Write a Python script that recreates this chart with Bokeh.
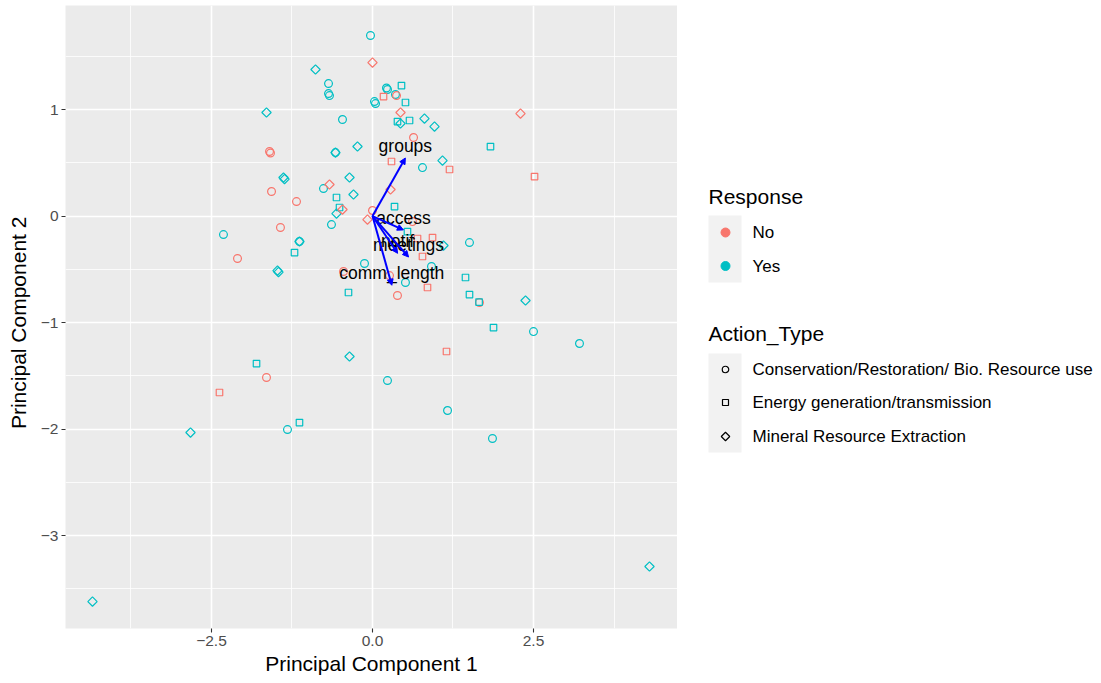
import math

from bokeh.plotting import figure
from bokeh.layouts import row
from bokeh.models import (ColumnDataSource, Range1d, FixedTicker,
                          CustomJSTickFormatter, Arrow, NormalHead)
from bokeh.core.properties import value
from bokeh.embed import file_html
from bokeh.resources import INLINE

RED = "#F8766D"
CYAN = "#00BFC4"
FONT = "Liberation Sans"

# PCA scores by Response (Yes / No) and Action_Type
yes_cons_pc1 = [-0.031, -0.683, -0.683, -0.668, 0.217, 0.233, 0.031, 0.047, -0.466, 0.776,
                -0.761, -0.637, -2.314, -1.134, -0.124, 0.916, 1.506, 0.512, 2.500, 3.214,
                0.233, 1.165, 1.863, -1.320, 0.357, -0.575]
yes_cons_pc2 = [1.695, 1.244, 1.150, 1.131, 1.202, 1.188, 1.075, 1.056, 0.906, 0.455,
                0.258, -0.080, -0.174, -0.239, -0.446, -0.474, -0.249, -0.624, -1.085, -1.197,
                -1.545, -1.826, -2.089, -2.005, 1.141, 0.596]

no_cons_pc1 = [0.637, -1.599, -1.584, -1.568, -1.180, 0.000, -1.429, -2.096, 0.621, -0.450,
               0.264, 0.388, 1.661, -1.646, 0.373]
no_cons_pc2 = [0.737, 0.606, 0.592, 0.230, 0.136, 0.052, -0.108, -0.399, -0.052, -0.521,
               -0.559, -0.746, -0.812, -1.516, 1.131]

yes_energy_pc1 = [0.450, 0.512, 0.388, 0.575, 1.832, -0.559, -0.512, 0.342, 0.543, 1.444,
                  1.506, -0.373, -1.211, 1.879, -1.801, -1.134, 1.655]
yes_energy_pc2 = [1.225, 1.066, 0.887, 0.897, 0.652, 0.174, 0.080, 0.089, -0.146, -0.577,
                  -0.737, -0.718, -0.343, -1.047, -1.385, -1.939, -0.808]

no_energy_pc1 = [0.171, 0.295, 1.196, 2.516, 0.699, 0.932, 0.776, 0.854, 1.149, -2.376]
no_energy_pc2 = [1.122, 0.512, 0.437, 0.371, -0.211, -0.202, -0.380, -0.671, -1.272, -1.657]

yes_mineral_pc1 = [-0.885, -1.646, 0.807, 0.963, 0.435, -0.233, -0.575, 1.087, -1.382, -1.366,
                   -0.357, -0.295, -0.559, 1.102, -1.475, -1.460, 2.376, -0.357, -2.826, -4.348,
                   4.301, -1.134]
yes_mineral_pc2 = [1.376, 0.972, 0.915, 0.840, 0.869, 0.653, 0.596, 0.521, 0.362, 0.347,
                   0.362, 0.202, 0.023, -0.277, -0.512, -0.526, -0.793, -1.319, -2.033, -3.620,
                   -3.291, -0.239]

no_mineral_pc1 = [0.000, 0.435, 2.298, -0.668, 0.280, -0.466, -0.078]
no_mineral_pc2 = [1.441, 0.972, 0.962, 0.296, 0.249, 0.061, -0.033]

# Variable loadings (arrows)
var_names = ["groups", "access", "notif", "meetings", "comm_length"]
load_pc1 = [0.51, 0.48, 0.39, 0.56, 0.30]
load_pc2 = [0.545, -0.13, -0.35, -0.385, -0.65]

x_ticks = [-2.5, 0.0, 2.5]
y_ticks = [-3, -2, -1, 0, 1]

p = figure(width=677, height=683, output_backend="svg", toolbar_location=None,
           x_range=Range1d(-4.767, 4.736), y_range=Range1d(-3.873, 1.977),
           min_border_left=65, min_border_right=0, min_border_top=5, min_border_bottom=55)
p.background_fill_color = "#EBEBEB"
p.border_fill_color = "white"
p.outline_line_color = None

# axes and grid
p.xaxis.ticker = FixedTicker(ticks=x_ticks, minor_ticks=[-3.75, -1.25, 1.25, 3.75])
p.yaxis.ticker = FixedTicker(ticks=y_ticks, minor_ticks=[-3.5, -2.5, -1.5, -0.5, 0.5, 1.5])
p.xaxis.formatter = CustomJSTickFormatter(
    code="return (tick < 0 ? '\u2212' : '') + Math.abs(tick).toFixed(1);")
p.yaxis.formatter = CustomJSTickFormatter(
    code="return (tick < 0 ? '\u2212' : '') + Math.abs(tick).toFixed(0);")
for ax in (p.xaxis[0], p.yaxis[0]):
    ax.axis_line_color = None
    ax.major_tick_line_color = "#333333"
    ax.major_tick_line_width = 1.1
    ax.major_tick_out = 4
    ax.major_tick_in = 0
    ax.minor_tick_line_color = None
    ax.major_label_text_font = FONT
    ax.major_label_text_font_size = "15.5px"
    ax.major_label_text_color = "#4D4D4D"
    ax.axis_label_text_font = FONT
    ax.axis_label_text_font_size = "21px"
    ax.axis_label_text_font_style = "normal"
    ax.axis_label_text_color = "black"
p.xaxis.axis_label = "Principal Component 1"
p.yaxis.axis_label = "Principal   Component 2"
p.xaxis.major_label_standoff = 3
p.xaxis.axis_label_standoff = 3
p.yaxis.major_label_standoff = 3
p.yaxis.axis_label_standoff = 8

for g in (p.xgrid[0], p.ygrid[0]):
    g.grid_line_color = "white"
    g.grid_line_width = 1.6
    g.minor_grid_line_color = "white"
    g.minor_grid_line_width = 0.8

# score points
groups = [
    (yes_cons_pc1, yes_cons_pc2, CYAN, "circle"),
    (no_cons_pc1, no_cons_pc2, RED, "circle"),
    (yes_energy_pc1, yes_energy_pc2, CYAN, "square"),
    (no_energy_pc1, no_energy_pc2, RED, "square"),
    (yes_mineral_pc1, yes_mineral_pc2, CYAN, "diamond"),
    (no_mineral_pc1, no_mineral_pc2, RED, "diamond"),
]
for xs, ys, col, shape in groups:
    src = ColumnDataSource(dict(x=xs, y=ys))
    if shape == "circle":
        p.scatter("x", "y", source=src, marker="circle", size=7.8,
                  fill_color=None, line_color=col, line_width=1.2)
    elif shape == "square":
        p.scatter("x", "y", source=src, marker="square", size=6.5,
                  fill_color=None, line_color=col, line_width=1.2)
    else:
        p.scatter("x", "y", source=src, marker="square", size=6.6, angle=math.pi / 4,
                  fill_color=None, line_color=col, line_width=1.2)

# loading arrows with labels
arrow_src = ColumnDataSource(dict(x0=[0.0] * len(load_pc1), y0=[0.0] * len(load_pc1),
                                  x1=load_pc1, y1=load_pc2, name=var_names))
p.add_layout(Arrow(end=NormalHead(size=6, fill_color="blue", line_color="blue"),
                   x_start="x0", y_start="y0", x_end="x1", y_end="y1",
                   source=arrow_src, line_color="blue", line_width=2))
p.text("x1", "y1", text="name", source=arrow_src, text_font=value(FONT),
       text_font_size="17.5px", text_color="black", text_align="center",
       text_baseline="middle", y_offset=-12)

# legend panel (frame is aligned with the plot frame, rows 5..628)
leg = figure(width=424, height=683, output_backend="svg", toolbar_location=None,
             x_range=Range1d(0, 424), y_range=Range1d(628, 5),
             min_border=0, min_border_left=0, min_border_right=0,
             min_border_top=5, min_border_bottom=55)
leg.axis.visible = False
leg.grid.visible = False
leg.outline_line_color = None
leg.background_fill_color = "white"
leg.border_fill_color = "white"

resp_labels = ["No", "Yes"]
resp_colors = [RED, CYAN]
type_labels = ["Conservation/Restoration/ Bio. Resource use",
               "Energy generation/transmission",
               "Mineral Resource Extraction"]

key_x, text_x, box_l, box_r = 48, 75, 31, 64
resp_rows = [232, 265.5]
type_rows = [369, 402, 436]

leg.text([box_l, box_l], [196, 333], text=["Response", "Action_Type"],
         text_font=value(FONT), text_font_size="21px", text_color="black",
         text_baseline="middle")
leg.quad(left=[box_l, box_l], right=[box_r, box_r], top=[215, 353], bottom=[282, 452],
         fill_color="#F2F2F2", line_color=None)
leg.scatter([key_x] * 2, resp_rows, marker="circle", size=9,
            fill_color=resp_colors, line_color=resp_colors)
leg.text([text_x] * 2, resp_rows, text=resp_labels, text_font=value(FONT),
         text_font_size="17px", text_color="black", text_baseline="middle")
leg.scatter([key_x], [type_rows[0]], marker="circle", size=6.5, fill_color=None,
            line_color="black", line_width=1.2)
leg.scatter([key_x], [type_rows[1]], marker="square", size=6, fill_color=None,
            line_color="black", line_width=1.2)
leg.scatter([key_x], [type_rows[2]], marker="square", size=6, angle=math.pi / 4,
            fill_color=None, line_color="black", line_width=1.2)
leg.text([text_x] * 3, type_rows, text=type_labels, text_font=value(FONT),
         text_font_size="17px", text_color="black", text_baseline="middle")

layout = row(p, leg)
open("out.html", "w").write(file_html(layout, INLINE))
